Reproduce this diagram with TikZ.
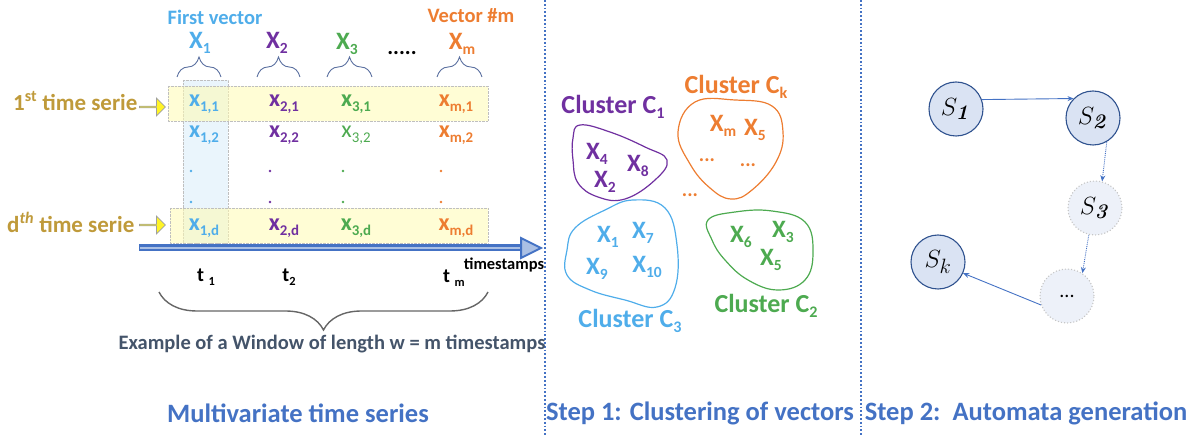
\documentclass[tikz,border=0pt]{standalone}
\usepackage[no-math]{fontspec}
\setmainfont{Carlito}
\usepackage{amsmath,bm}
\usetikzlibrary{decorations.pathreplacing,shapes.arrows,arrows.meta}
\definecolor{cblue}{HTML}{4FADEA}
\definecolor{cpurple}{HTML}{7030A0}
\definecolor{cgreen}{HTML}{4DAA50}
\definecolor{corange}{HTML}{ED7D31}
\definecolor{cgold}{HTML}{BF9A3A}
\definecolor{ttl}{HTML}{4472C4}
\definecolor{darkt}{HTML}{44546A}
\definecolor{bracec}{HTML}{5B70A0}
\definecolor{stfill}{HTML}{DAE3F3}
\definecolor{stdraw}{HTML}{2F528F}
\definecolor{stlight}{HTML}{EDF1F9}
\newcommand\fsz[1]{\fontsize{#1}{#1}\selectfont}
\newcommand\sbs[1]{\raisebox{-0.22em}{\scalebox{0.62}{#1}}}
\tikzset{
  lbl/.style={inner sep=0pt, font=\bfseries},
  hdr/.style={lbl, font=\bfseries\fsz{25}},
  ent/.style={lbl, font=\bfseries\fsz{24}},
  cx/.style={lbl, font=\bfseries\fsz{25}},
  ctitle/.style={lbl, font=\bfseries\fsz{26}},
  ttitle/.style={lbl, text=ttl, font=\bfseries\fsz{26.5}},
  sarrow/.style={single arrow, draw=gray!75, fill={yellow!85}, minimum height=26pt, minimum width=18pt, inner sep=0pt, single arrow head extend=4pt, line width=0.8pt},
  smallbrace/.style={draw=bracec, line width=0.9pt, decorate, decoration={brace, amplitude=20pt}},
  state/.style={circle, minimum size=54pt, inner sep=0pt, fill=stfill, draw=stdraw, line width=1.1pt, font=\fsz{28}},
  lstate/.style={circle, minimum size=54pt, inner sep=0pt, fill=stlight, draw=gray!45, dotted, line width=1.1pt, font=\fsz{28}},
  tr/.style={draw=ttl, line width=0.9pt, -{Stealth[length=6pt,width=5pt]}},
  blob/.style={line width=1.2pt},
  sep/.style={draw=ttl, dotted, line width=1.8pt}
}
\begin{document}
\begin{tikzpicture}[x=1pt,y=-1pt]
\useasboundingbox (0,0) rectangle (1199,435);
% separators
\draw[sep] (545,0) -- (545,435);
\draw[sep] (861,0) -- (861,435);
% column and row bands
\draw[densely dotted, draw=gray!50, fill={cblue!12}] (183,80) rectangle (228,243);
\draw[densely dotted, draw=gray!50, fill={yellow!30}, fill opacity=0.55] (168,86) rectangle (488,121);
\draw[densely dotted, draw=gray!50, fill={yellow!30}, fill opacity=0.55] (170,208) rectangle (488,243);
% headers
\node[lbl, text=cblue, font=\bfseries\fsz{20.5}] (fv) at (215,17) {First vector};
\node[lbl, text=corange, font=\bfseries\fsz{20.5}] (vm) at (471,16) {Vector \#m};
\node[hdr, text=cblue] (X1) at (200,43) {X\sbs{1}};
\node[hdr, text=cpurple] (X2) at (277,43) {X\sbs{2}};
\node[hdr, text=cgreen] (X3) at (347,44) {X\sbs{3}};
\node[lbl, font=\bfseries\fsz{22}] (dd) at (402,53) {.....};
\node[hdr, text=corange] (Xm) at (462,44) {X\sbs{m}};
% small braces
\draw[smallbrace] (177,77) -- (221,77);
\draw[smallbrace] (257,77) -- (300,77);
\draw[smallbrace] (327,77) -- (372,77);
\draw[smallbrace] (437,77) -- (482,77);
% time serie labels
\node[lbl, text=cgold, font=\bfseries\fsz{23}, anchor=west] (ts1) at (13,101) {1\textsuperscript{st} time serie};
\node[lbl, text=cgold, font=\bfseries\fsz{23}, anchor=west] (tsd) at (7,222) {d\textsuperscript{\textit{th}} time serie};
\node[sarrow] (a1) at (152,107) {};
\node[sarrow] (a2) at (152,225) {};
% entries
\node[ent, text=cblue] (e11) at (204,104) {x\sbs{1,1}};
\node[ent, text=cpurple] (e21) at (284,104) {x\sbs{2,1}};
\node[ent, text=cgreen] (e31) at (356,104) {x\sbs{3,1}};
\node[ent, text=corange] (em1) at (456,104) {x\sbs{m,1}};
\node[ent, text=cblue] (e12) at (204,135) {x\sbs{1,2}};
\node[ent, text=cpurple] (e22) at (284,135) {x\sbs{2,2}};
\node[lbl, text=cgreen, font=\fsz{24}] (e32) at (356,135) {x\sbs{3,2}};
\node[ent, text=corange] (em2) at (456,135) {x\sbs{m,2}};
\foreach \xx/\cc in {191/cblue,270/cpurple,343/cgreen,441/corange}{
  \fill[\cc] (\xx,171) circle (1.3pt);
  \fill[\cc] (\xx,202) circle (1.3pt);
}
\node[ent, text=cblue] (e1d) at (204,228) {x\sbs{1,d}};
\node[ent, text=cpurple] (e2d) at (284,228) {x\sbs{2,d}};
\node[ent, text=cgreen] (e3d) at (356,228) {x\sbs{3,d}};
\node[ent, text=corange] (emd) at (456,228) {x\sbs{m,d}};
% time axis
\fill[ttl] (139,244.5) rectangle (522,251.5);
\draw[ttl!45, line width=1.3pt] (140,248) -- (522,248);
\filldraw[fill=ttl!45, draw=ttl, line width=2pt, line join=miter] (521,238) -- (541,248) -- (521,258) -- cycle;
\node[lbl, font=\bfseries\fsz{16.5}] (tst) at (504,265) {timestamps};
\node[lbl, font=\bfseries\fsz{20}] (t1) at (206,277) {t \sbs{1}};
\node[lbl, font=\bfseries\fsz{20}] (t2) at (289,277) {t\sbs{2}};
\node[lbl, font=\bfseries\fsz{20}] (tm) at (454,278) {t \sbs{m}};
% window brace
\draw[draw=gray!80!black, line width=1.4pt, decorate, decoration={brace, amplitude=38pt}] (488,292) -- (159,292);
\node[lbl, text=darkt, font=\bfseries\fsz{20.5}] (win) at (332,344) {Example of a Window of length w = m timestamps};
% bottom titles
\node[ttitle] (t_a) at (298,413) {Multivariate time series};
\node[ttitle] (t_b) at (700,413) {Step 1: Clustering of vectors};
\node[ttitle] (t_c) at (1026,413) {Step 2:\ \ Automata generation};
% clusters
\draw[blob, cpurple] plot[smooth cycle, tension=0.7] coordinates {(580,125) (610,132) (645,147) (667,160) (655,180) (625,199) (598,197) (578,183) (573,160) (573,138)};
\draw[blob, corange] plot[smooth cycle, tension=0.7] coordinates {(695,102) (735,100) (772,106) (783,132) (776,162) (752,190) (731,199) (710,188) (690,164) (678,132)};
\draw[blob, cblue] plot[smooth cycle, tension=0.7] coordinates {(575,228) (605,210) (633,200) (665,208) (677,245) (675,288) (657,307) (625,300) (590,290) (567,275) (567,250)};
\draw[blob, cgreen] plot[smooth cycle, tension=0.7] coordinates {(708,220) (735,212) (772,211) (805,222) (813,252) (805,280) (778,290) (748,280) (725,260) (712,240)};
\node[ctitle, text=cpurple] (c1) at (613,107) {Cluster C\sbs{1}};
\node[ctitle, text=corange] (ck) at (736,87) {Cluster C\sbs{k}};
\node[ctitle, text=cblue] (c3) at (630,321) {Cluster C\sbs{3}};
\node[ctitle, text=cgreen] (c2) at (766,306) {Cluster C\sbs{2}};
\node[cx, text=cpurple] at (597,154) {X\sbs{4}};
\node[cx, text=cpurple] at (638,166) {X\sbs{8}};
\node[cx, text=cpurple] at (605,182) {X\sbs{2}};
\node[cx, text=corange] at (723,126) {X\sbs{m}};
\node[cx, text=corange] at (755,130) {X\sbs{5}};
\node[lbl, text=corange, font=\bfseries\fsz{20}] at (707,160) {...};
\node[lbl, text=corange, font=\bfseries\fsz{20}] at (748,165) {...};
\node[lbl, text=corange, font=\bfseries\fsz{20}] at (690,195) {...};
\node[cx, text=cblue] at (608,237) {X\sbs{1}};
\node[cx, text=cblue] at (643,233) {X\sbs{7}};
\node[cx, text=cblue] at (597,269) {X\sbs{9}};
\node[cx, text=cblue] at (647,267) {X\sbs{10}};
\node[cx, text=cgreen] at (741,237) {X\sbs{6}};
\node[cx, text=cgreen] at (783,232) {X\sbs{3}};
\node[cx, text=cgreen] at (771,260) {X\sbs{5}};
% automata
\node[state] (S1) at (956,109) {$S_{\boldsymbol{\mathit{1}}}$};
\node[state] (S2) at (1093,118) {$S_{\boldsymbol{\mathit{2}}}$};
\node[lstate] (S3) at (1095,208) {$S_{\boldsymbol{\mathit{3}}}$};
\node[lstate] (Sd) at (1067,296) {\fsz{20}...};
\node[state] (Sk) at (938,262) {$S_k$};
\draw[tr] (S1.20) -- (S2.135);
\draw[tr, densely dotted] (S2.-60) -- (S3.75);
\draw[tr, densely dotted] (S3.-103) -- (Sd.56);
\draw[tr] (Sd.199) -- (Sk.-24);
\end{tikzpicture}
\end{document}
